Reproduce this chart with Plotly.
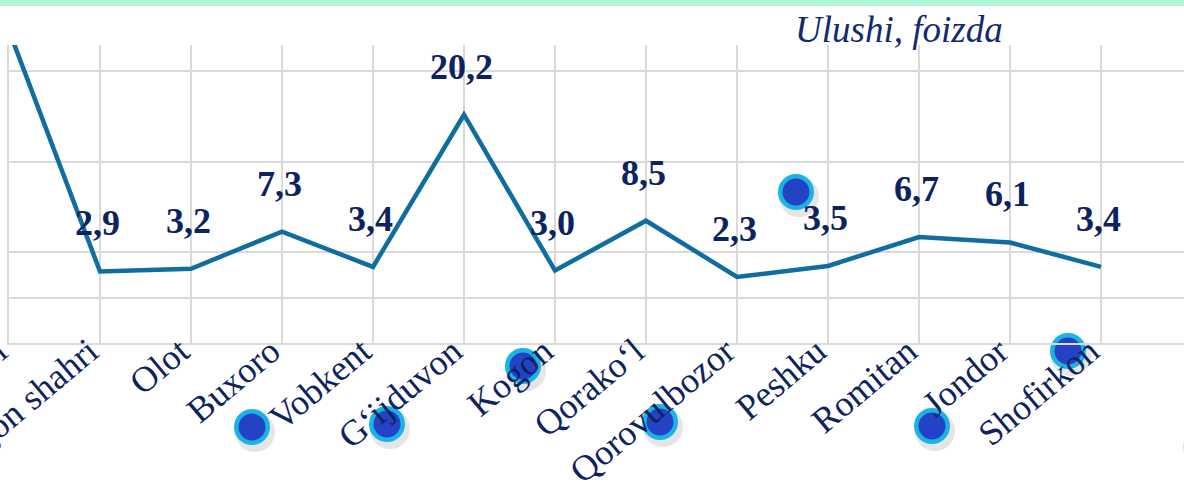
import plotly.graph_objects as go

categories = ["Buxoro shahri", "Kogon shahri", "Olot", "Buxoro", "Vobkent", "G‘ijduvon",
              "Kogon", "Qorako‘l", "Qorovulbozor", "Peshku", "Romitan", "Jondor", "Shofirkon"]
shares = [29.5, 2.9, 3.2, 7.3, 3.4, 20.2, 3.0, 8.5, 2.3, 3.5, 6.7, 6.1, 3.4]
grid_values = [-5, 0, 5, 15, 25]
title_text = "Ulushi, foizda"

W, H = 1184, 484
ML, MR, MT, MB = 9, 0, 45, 141
PW, PH = W - ML - MR, H - MT - MB
X_RANGE = [0, PW / 91.0]
Y_RANGE = [-5, 27.9]

NAVY = "#0c2360"
LINE = "#0f6d9f"
GRID = "#dadada"
SERIF = "Liberation Serif, Times New Roman, serif"

x_idx = list(range(len(categories)))

fig = go.Figure()
fig.add_trace(go.Scatter(
    x=x_idx, y=shares, mode="lines",
    line=dict(color=LINE, width=4.5),
    hoverinfo="skip", showlegend=False,
))

# data labels
for i, v in enumerate(shares):
    if v > Y_RANGE[1] - 3:
        continue
    fig.add_annotation(
        x=i, y=v, xref="x", yref="y",
        text=f"{v:.1f}".replace(".", ","),
        showarrow=False, yshift=48, xshift=-3,
        font=dict(family=SERIF, size=36, color=NAVY, weight="bold"),
    )

fig.add_annotation(
    x=(1005 - ML) / PW, y=1 + (MT - 30) / PH, xref="paper", yref="paper",
    xanchor="right", yanchor="middle", text=f"<i>{title_text}</i>", showarrow=False,
    font=dict(family=SERIF, size=37, color="#132a6e"),
)

# top decorative band
shapes = [dict(type="rect", xref="paper", yref="paper", x0=-ML / PW, x1=1 + 0.01,
               y0=1 + (MT - 6) / PH, y1=1 + (MT + 2) / PH,
               fillcolor="#b2f4d6", line=dict(width=0), layer="above")]

# decorative bubbles (pixel centres), drawn beneath the axis text
bubbles = [(252, 427), (387, 424), (523, 366), (660, 422), (796, 192), (932, 426), (1068, 351)]
for (bx, by) in bubbles:
    px = (bx - ML) / PW
    py = (MT + PH - by) / PH
    shapes.append(dict(type="circle", xref="paper", yref="paper", xsizemode="pixel", ysizemode="pixel",
                       xanchor=px, yanchor=py, x0=-17, x1=23, y0=-25, y1=15,
                       fillcolor="rgba(0,0,0,0.10)", line=dict(width=0), layer="below"))
    shapes.append(dict(type="circle", xref="paper", yref="paper", xsizemode="pixel", ysizemode="pixel",
                       xanchor=px, yanchor=py, x0=-18, x1=18, y0=-18, y1=18,
                       fillcolor="#19b3e4", line=dict(width=0), layer="below"))
    shapes.append(dict(type="circle", xref="paper", yref="paper", xsizemode="pixel", ysizemode="pixel",
                       xanchor=px, yanchor=py, x0=-13.5, x1=13.5, y0=-13.5, y1=13.5,
                       fillcolor="#2442c6", line=dict(width=0), layer="below"))
# partial shadow at right edge
shapes.append(dict(type="circle", xref="paper", yref="paper", xsizemode="pixel", ysizemode="pixel",
                   xanchor=(1205 - ML) / PW, yanchor=(MT + PH - 447) / PH,
                   x0=-22, x1=22, y0=-22, y1=22,
                   fillcolor="rgba(0,0,0,0.12)", line=dict(width=0), layer="below"))

fig.update_layout(
    width=W, height=H,
    margin=dict(l=ML, r=MR, t=MT, b=MB, pad=0, autoexpand=False),
    paper_bgcolor="white", plot_bgcolor="rgba(0,0,0,0)",
    shapes=shapes,
    xaxis=dict(
        range=X_RANGE, tickmode="array", tickvals=x_idx, ticktext=categories,
        tickangle=-40, showgrid=True, gridcolor=GRID, gridwidth=2,
        showline=True, linecolor=GRID, linewidth=2, zeroline=False, ticks="",
        tickfont=dict(family=SERIF, size=36, color=NAVY), automargin=False,
        ticklabeloverflow="allow", ticklabelstandoff=-29, ticklabelshift=-11,
    ),
    yaxis=dict(
        range=Y_RANGE, tickmode="array", tickvals=grid_values, showticklabels=False,
        showgrid=True, gridcolor=GRID, gridwidth=2, zeroline=False, automargin=False,
        showline=True, linecolor=GRID, linewidth=2, ticks="",
    ),
)

fig.write_html("out.html", config={"displayModeBar": False},
               post_script="document.body.style.margin='0';")
